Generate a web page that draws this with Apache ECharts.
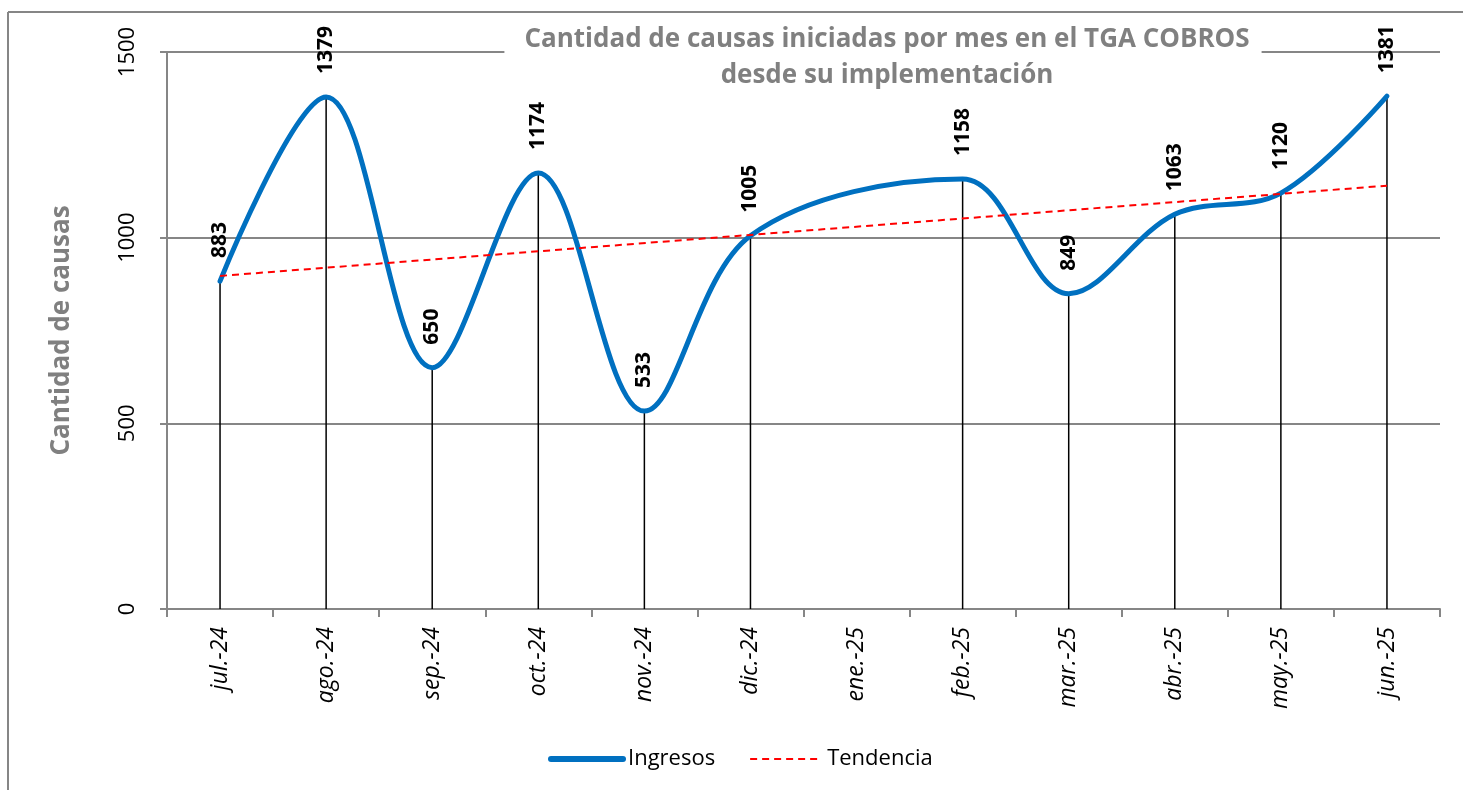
<!DOCTYPE html>
<html>
<head>
<meta charset="utf-8">
<script src="https://cdn.jsdelivr.net/npm/echarts@6/dist/echarts.min.js"></script>
<style>html,body{margin:0;padding:0;background:#fff;}#c{width:1463px;height:790px;}</style>
</head>
<body>
<div id="c"></div>
<script>
const categories = ['jul.-24','ago.-24','sep.-24','oct.-24','nov.-24','dic.-24','ene.-25','feb.-25','mar.-25','abr.-25','may.-25','jun.-25'];
const ingresos = [883, 1379, 650, 1174, 533, 1005, null, 1158, 849, 1063, 1120, 1381];
const tendencia = [897, null, null, null, null, null, null, null, null, null, null, 1140];
const yTicks = { min: 0, max: 1500, interval: 500 };

const FONT = '"Open Sans", "DejaVu Sans", sans-serif';
const GRAY = '#868686';

const chart = echarts.init(document.getElementById('c'), null, { renderer: 'canvas' });
chart.setOption({
  backgroundColor: '#fff',
  animation: false,
  title: {
    text: 'Cantidad de causas iniciadas por mes en el TGA COBROS\ndesde su implementación',
    left: 867,
    textAlign: 'center',
    top: 20,
    padding: [2, 12, 2, 20],
    backgroundColor: '#fff',
    z: 10,
    textStyle: { fontFamily: FONT, fontSize: 26, fontWeight: 'bold', color: '#808080', lineHeight: 36 }
  },
  graphic: [
    { type: 'line', shape: { x1: 8, y1: 12, x2: 1463, y2: 12 }, style: { stroke: GRAY, lineWidth: 2 }, z: -1 },
    { type: 'line', shape: { x1: 8, y1: 12, x2: 8, y2: 790 }, style: { stroke: GRAY, lineWidth: 2 }, z: -1 }
  ],
  legend: {
    bottom: 15,
    left: 543,
    itemWidth: 72,
    itemHeight: 14,
    itemGap: 34,
    itemStyle: { opacity: 0 },
    textStyle: { fontFamily: FONT, fontSize: 22, color: '#000' },
    data: [
      { name: 'Ingresos', lineStyle: { width: 6, cap: 'round', color: '#0070C0' } },
      { name: 'Tendencia', lineStyle: { width: 2, type: [7, 5], color: '#FF0000' } }
    ]
  },
  grid: { left: 167, right: 23, top: 52, bottom: 181, containLabel: false },
  xAxis: {
    type: 'category',
    data: categories,
    boundaryGap: true,
    axisLine: { show: true, lineStyle: { color: GRAY, width: 2 } },
    axisTick: { show: true, length: 8, interval: 0, lineStyle: { color: GRAY, width: 2 } },
    axisLabel: { interval: 0, rotate: 90, margin: 18, fontFamily: FONT, fontSize: 23, fontStyle: 'italic', color: '#000' },
    splitLine: { show: false }
  },
  yAxis: {
    type: 'value',
    min: yTicks.min, max: yTicks.max, interval: yTicks.interval,
    name: 'Cantidad de causas',
    nameLocation: 'middle',
    nameRotate: 90,
    nameGap: 92,
    nameTextStyle: { fontFamily: FONT, fontSize: 26, fontWeight: 'bold', color: '#808080' },
    axisLine: { show: true, lineStyle: { color: GRAY, width: 2 } },
    axisTick: { show: true, length: 7, lineStyle: { color: GRAY, width: 2 } },
    axisLabel: { rotate: 90, margin: 28, fontFamily: FONT, fontSize: 22, color: '#000', formatter: function (v) { return String(v); } },
    splitLine: { show: true, lineStyle: { color: GRAY, width: 2 } }
  },
  series: [
    {
      name: 'drop',
      type: 'bar',
      data: ingresos,
      barWidth: 1.5,
      itemStyle: { color: '#000' },
      z: 1,
      silent: true,
      legendHoverLink: false,
      label: {
        show: true,
        position: 'top',
        distance: 23,
        rotate: 90,
        align: 'left',
        verticalAlign: 'middle',
        fontFamily: FONT,
        fontSize: 21,
        fontWeight: 'bold',
        color: '#000'
      }
    },
    {
      name: 'Ingresos',
      type: 'line',
      data: ingresos,
      smooth: 0.35,
      connectNulls: true,
      symbol: 'none',
      lineStyle: { color: '#0070C0', width: 5, cap: 'round' },
      itemStyle: { color: '#0070C0' },
      z: 3
    },
    {
      name: 'Tendencia',
      type: 'line',
      data: tendencia,
      connectNulls: true,
      symbol: 'none',
      lineStyle: { color: '#FF0000', width: 2, type: [7, 5] },
      itemStyle: { color: '#FF0000' },
      z: 4
    }
  ]
});
</script>
</body>
</html>
